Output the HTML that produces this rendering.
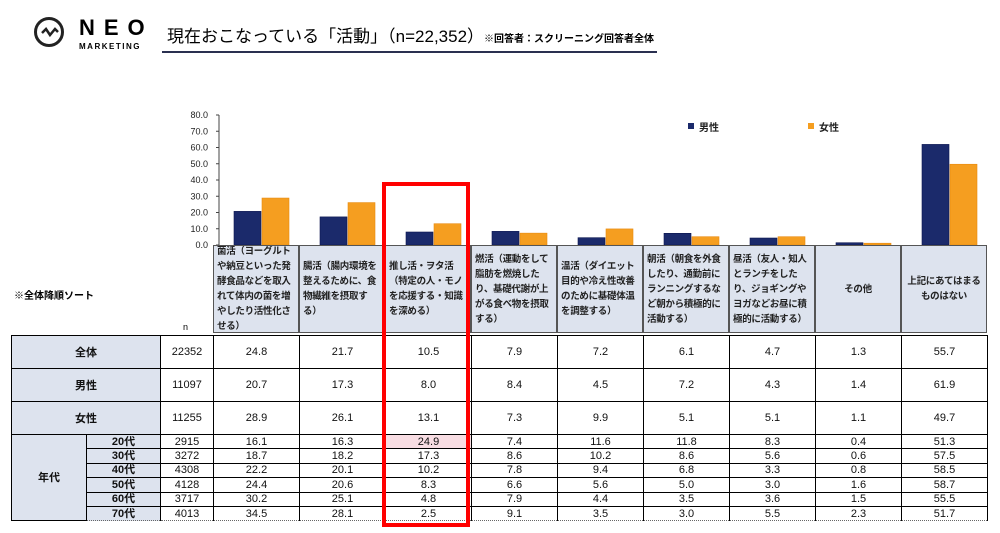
<!DOCTYPE html>
<html><head><meta charset="utf-8"><style>
body{margin:0;width:1000px;height:533px;background:#fff;font-family:"Liberation Sans","Noto Sans CJK JP",sans-serif;position:relative;overflow:hidden}
.abs{position:absolute}
table{border-collapse:collapse;position:absolute;left:11px;top:335px;font-size:11px;table-layout:fixed}
td{border:1px solid #000;text-align:center;padding:0;color:#111}
.h{background:#dde3ee;font-weight:bold}
.hd{position:absolute;top:245px;height:88px;background:#dde3ee;border:1px solid #555;box-sizing:border-box;font-size:9.5px;line-height:15px;padding:1px 3px;display:flex;align-items:center;font-weight:bold;color:#222;overflow:hidden;letter-spacing:-0.3px}
</style></head><body>
<div class="abs" style="left:34px;top:17px;width:30px;height:30px;border:3px solid #222;border-radius:50%;box-sizing:border-box"></div>
<svg class="abs" style="left:40px;top:25px" width="20" height="14"><polyline points="2,8 6,4 10,10 15,4 18,7" fill="none" stroke="#222" stroke-width="2.5"/></svg>
<div class="abs" style="left:79px;top:15px;font-size:22px;font-weight:bold;letter-spacing:9px">NEO</div>
<div class="abs" style="left:79px;top:42px;font-size:8px;font-weight:bold;letter-spacing:1.5px">MARKETING</div>
<div class="abs" style="left:167px;top:22px;font-size:17px">現在おこなっている「活動」（n=22,352）<span style="font-size:10px;font-weight:bold">※回答者：スクリーニング回答者全体</span></div>
<div class="abs" style="left:162px;top:51px;width:495px;height:2px;background:#2a3050"></div>
<div class="abs" style="left:14px;top:287px;font-size:10px;font-weight:bold">※全体降順ソート</div>
<div class="abs" style="left:183px;top:322px;font-size:9px">n</div>
<svg id="chart" class="abs" style="left:0;top:0" width="1000" height="260"></svg>
<div id="hdrs"></div>
<table id="tbl"></table>
<div class="abs" style="left:382px;top:182px;width:88px;height:345px;border:4px solid #f00;box-sizing:border-box"></div>
<script>
const categories=["菌活（ヨーグルトや納豆といった発酵食品などを取入れて体内の菌を増やしたり活性化させる）","腸活（腸内環境を整えるために、食物繊維を摂取する）","推し活・ヲタ活（特定の人・モノを応援する・知識を深める）","燃活（運動をして脂肪を燃焼したり、基礎代謝が上がる食べ物を摂取する）","温活（ダイエット目的や冷え性改善のために基礎体温を調整する）","朝活（朝食を外食したり、通勤前にランニングするなど朝から積極的に活動する）","昼活（友人・知人とランチをしたり、ジョギングやヨガなどお昼に積極的に活動する）","その他","上記にあてはまるものはない"];
const male=[20.7,17.3,8.0,8.4,4.5,7.2,4.3,1.4,61.9];
const female=[28.9,26.1,13.1,7.3,9.9,5.1,5.1,1.1,49.7];
const total=[24.8,21.7,10.5,7.9,7.2,6.1,4.7,1.3,55.7];
const rowLabels=["20代","30代","40代","50代","60代","70代"];
const rowN=[2915,3272,4308,4128,3717,4013];
const ageVals=[
[16.1,16.3,24.9,7.4,11.6,11.8,8.3,0.4,51.3],
[18.7,18.2,17.3,8.6,10.2,8.6,5.6,0.6,57.5],
[22.2,20.1,10.2,7.8,9.4,6.8,3.3,0.8,58.5],
[24.4,20.6,8.3,6.6,5.6,5.0,3.0,1.6,58.7],
[30.2,25.1,4.8,7.9,4.4,3.5,3.6,1.5,55.5],
[34.5,28.1,2.5,9.1,3.5,3.0,5.5,2.3,51.7]];
const ticks=[0,10,20,30,40,50,60,70,80];
const NS="http://www.w3.org/2000/svg";
const svg=document.getElementById('chart');
const x0=213,cw=86,y0=245,yTop=115;
const y=v=>y0-(v/80)*(y0-yTop);
function mk(t,a){const e=document.createElementNS(NS,t);for(const k in a)e.setAttribute(k,a[k]);svg.appendChild(e);return e;}
const ax=mk('line',{x1:219,y1:y(80),x2:219,y2:y0,stroke:'#444'});


ticks.forEach(t=>{const l=mk('line',{x1:216,x2:219,y1:y(t),y2:y(t),stroke:'#444'});


const tx=mk('text',{x:208,y:y(t)+3,'text-anchor':'end','font-size':9,fill:'#222'});tx.textContent=t.toFixed(1);

});
male.forEach((v,i)=>{const cx=x0+cw*i+cw/2;
const b=mk('rect',{x:cx-22,y:y(v),width:27,height:y0-y(v),fill:'#1b2a6b',stroke:'#0c1650','stroke-width':0.6});


const f=mk('rect',{x:cx+6,y:y(female[i]),width:27,height:y0-y(female[i]),fill:'#f59e20',stroke:'#e88a10','stroke-width':0.6});

});
[[688,'#1b2a6b','男性'],[808,'#f59e20','女性']].forEach(([lx,c,t])=>{const r=mk('rect',{x:lx,y:123,width:6,height:6,fill:c});


const tx=mk('text',{x:lx+11,y:131,'font-size':10,fill:'#222','font-weight':'bold'});tx.textContent=t;

});
const hd=document.getElementById('hdrs');
categories.forEach((c,i)=>{const d=document.createElement('div');d.className='hd';
d.style.left=(x0+cw*i)+'px';d.style.width=cw+'px';
if(i>=7){d.style.justifyContent='center';d.style.textAlign='center';}
d.textContent=c;


hd.appendChild(d);});
const tb=document.getElementById('tbl');
let html='<colgroup><col style="width:75px"><col style="width:74px"><col style="width:53px">'+categories.map(()=>'<col style="width:86px">').join('')+'</colgroup>';
[['全体',22352,total],['男性',11097,male],['女性',11255,female]].forEach(([l,n,v])=>{html+=`<tr style="height:33px"><td colspan="2" class="h">${l}</td><td>${n}</td>${v.map(x=>`<td>${x.toFixed(1)}</td>`).join('')}</tr>`;});
rowLabels.forEach((l,i)=>{html+=`<tr style="height:14.4px;line-height:12px">${i==0?'<td rowspan="6" class="h">年代</td>':''}<td class="h" style="border-bottom:1px dotted #666">${l}</td><td style="border-bottom:1px dotted #666">${rowN[i]}</td>${ageVals[i].map((x,j)=>`<td style="border-bottom:1px dotted #666;${(i==0&&j==2)?'background:#f8dde3':''}">${x.toFixed(1)}</td>`).join('')}</tr>`;});
tb.innerHTML=html;
</script>
</body></html>
